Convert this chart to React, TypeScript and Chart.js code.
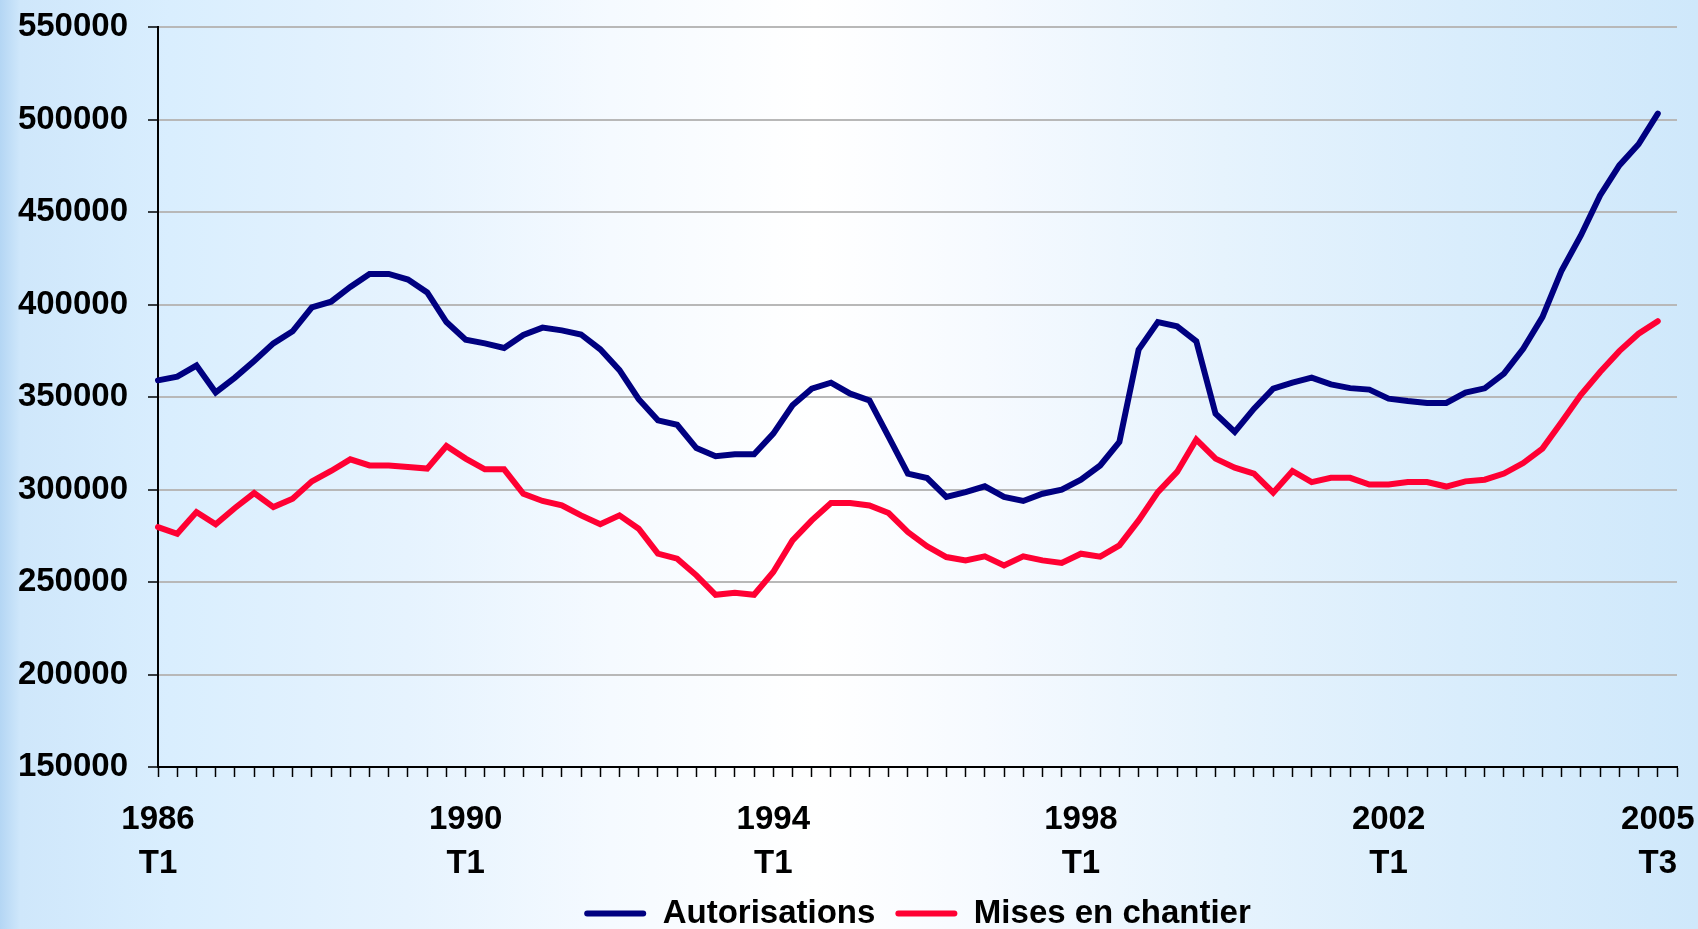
import React, { useEffect, useRef } from 'react';
import { Chart, registerables } from 'chart.js';

Chart.register(...registerables);

// Quarterly categories, 1986 T1 .. 2005 T4 (last category left empty, as in the original axis)
const years = [1986, 1987, 1988, 1989, 1990, 1991, 1992, 1993, 1994, 1995, 1996, 1997, 1998, 1999, 2000, 2001, 2002, 2003, 2004, 2005];
const quarters = ['T1', 'T2', 'T3', 'T4'];
const categories: string[] = [];
years.forEach((y) => quarters.forEach((q) => categories.push(`${y} ${q}`)));

const shownTicks = ['1986 T1', '1990 T1', '1994 T1', '1998 T1', '2002 T1', '2005 T3'];

const autorisations = [
  359000, 361000, 367000, 352500, 360500, 369500, 379000, 385500,
  398500, 401500, 409500, 416500, 416500, 413500, 406500, 390500,
  381000, 379000, 376500, 383500, 387500, 386000, 383800, 375800,
  364500, 348800, 337400, 335000, 322400, 318000, 319000, 319000,
  330200, 345500, 354500, 357700, 351800, 348200, 328400, 308600,
  306200, 296000, 298600, 301700, 296000, 293800, 297700, 299900,
  305300, 313000, 325700, 375600, 390500, 388200, 380100, 341000,
  331100, 343700, 354500, 357800, 360500, 356800, 354800, 354000,
  349100, 347800, 346800, 346800, 352400, 354700, 362600, 376100,
  393200, 418400, 437300, 459000, 475200, 486600, 503200,
];

const misesEnChantier = [
  279700, 276100, 287800, 281200, 290000, 298100, 290500, 295000,
  304400, 310000, 316300, 313000, 313000, 312200, 311300, 323500,
  316700, 310900, 310900, 297700, 293800, 291400, 286000, 281200,
  286000, 278800, 265300, 262600, 253600, 243100, 244200, 243100,
  255400, 272500, 283300, 292700, 292700, 291400, 287300, 277000,
  269300, 263500, 261700, 263900, 259000, 263900, 261700, 260300,
  265300, 263700, 269800, 283300, 298600, 309500, 327000, 316700,
  311800, 308600, 298300, 310000, 304000, 306300, 306300, 302700,
  302700, 304000, 304000, 301600, 304400, 305300, 308600, 314300,
  322100, 336500, 351200, 363500, 374800, 384200, 391000,
];

const yTicks = [150000, 200000, 250000, 300000, 350000, 400000, 450000, 500000, 550000];

const FONT = "'Liberation Sans', Arial, sans-serif";

export default function App() {
  const canvasRef = useRef<HTMLCanvasElement | null>(null);

  useEffect(() => {
    document.documentElement.style.overflow = 'hidden';
    document.body.style.margin = '0';
    document.body.style.overflow = 'hidden';
    const canvas = canvasRef.current;
    if (!canvas) return;

    const chart = new Chart(canvas, {
      type: 'line',
      data: {
        labels: categories,
        datasets: [
          {
            label: 'Autorisations',
            data: autorisations,
            borderColor: '#000080',
            backgroundColor: '#000080',
            borderWidth: 6,
            pointRadius: 0,
            tension: 0,
            borderCapStyle: 'round',
            fill: false,
          },
          {
            label: 'Mises en chantier',
            data: misesEnChantier,
            borderColor: '#ff0033',
            backgroundColor: '#ff0033',
            borderWidth: 6,
            pointRadius: 0,
            tension: 0,
            borderCapStyle: 'round',
            fill: false,
          },
        ],
      },
      options: {
        animation: false,
        responsive: true,
        maintainAspectRatio: false,
        layout: { padding: { left: 0, right: 20, top: 27, bottom: 0 } },
        plugins: {
          tooltip: { enabled: false },
          legend: {
            position: 'bottom',
            align: 'center',
            fullSize: false,
            labels: {
              boxWidth: 62,
              boxHeight: 6,
              padding: 20,
              color: '#000',
              font: { family: FONT, size: 33, weight: 'bold' },
              generateLabels: (c: any) =>
                Chart.defaults.plugins.legend.labels.generateLabels(c).map((it: any) => ({
                  ...it,
                  fillStyle: it.strokeStyle,
                  lineWidth: 0,
                  borderRadius: 3,
                })),
            },
          },
        },
        scales: {
          x: {
            type: 'category',
            offset: false,
            afterFit: (scale: any) => {
              scale.height = 110;
            },
            grid: {
              drawOnChartArea: false,
              drawTicks: true,
              tickLength: 10,
              tickColor: '#000',
              tickWidth: 1.5,
            },
            border: { display: true, color: '#000', width: 2 },
            ticks: {
              autoSkip: false,
              maxRotation: 0,
              minRotation: 0,
              padding: 21,
              color: '#000',
              font: { family: FONT, size: 33, weight: 'bold', lineHeight: 1.33 },
              callback: (_v: any, index: number) => {
                const lab = categories[index];
                return shownTicks.includes(lab) ? lab.split(' ') : '';
              },
            },
          },
          y: {
            min: yTicks[0],
            max: yTicks[yTicks.length - 1],
            afterFit: (scale: any) => {
              scale.width = 158;
            },
            afterBuildTicks: (scale: any) => {
              scale.ticks = yTicks.map((v) => ({ value: v }));
            },
            grid: {
              color: '#b8b8b8',
              lineWidth: 2,
              drawTicks: true,
              tickLength: 10,
              tickColor: '#000',
              tickWidth: 1.5,
            },
            border: { display: true, color: '#000', width: 2 },
            ticks: {
              padding: 20,
              color: '#000',
              font: { family: FONT, size: 33, weight: 'bold', lineHeight: 0.4 },
              callback: (v: any) => String(v),
            },
          },
        },
      },
    });

    return () => chart.destroy();
  }, []);

  return (
    <div
      style={{
        width: 1698,
        height: 940,
        position: 'relative',
        background:
          'linear-gradient(to right, #b4d6f4 0%, #cfe7fb 1.2%, #d9eefe 10%, #e6f3fe 24%, #f5faff 36%, #ffffff 48%, #f6faff 58%, #e6f3fd 72%, #d9edfc 86%, #cfe8fb 100%)',
      }}
    >
      <canvas ref={canvasRef} />
    </div>
  );
}
